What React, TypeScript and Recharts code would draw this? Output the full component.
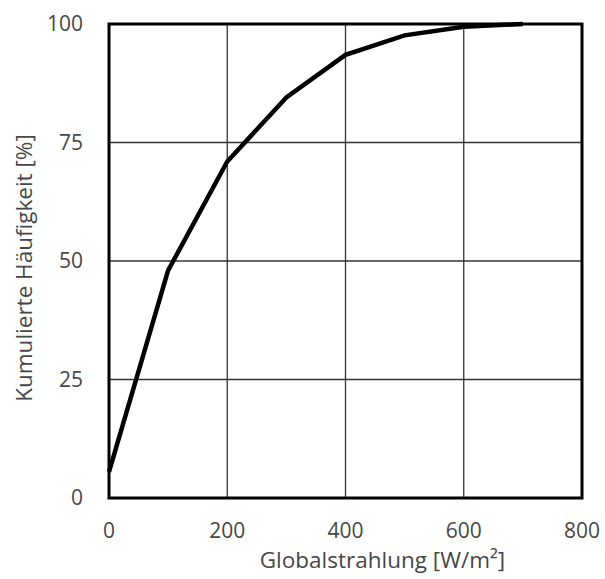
import React from 'react';
import { LineChart, Line, XAxis, YAxis, CartesianGrid, ReferenceArea } from 'recharts';

// Globalstrahlung in W/m² und kumulierte Häufigkeit in %
const irradiance = [0, 100, 200, 300, 400, 500, 600, 700];
const cumulative = [5.5, 48, 71, 84.5, 93.5, 97.6, 99.4, 100];

const xTicks = [0, 200, 400, 600, 800];
const yTicks = [0, 25, 50, 75, 100];

const chartData = irradiance.map((x, i) => ({ x, y: cumulative[i] }));

const font = '"Open Sans", "Noto Sans", sans-serif';
const textColor = '#474747';
const tickStyle = { fontSize: 21, fill: textColor, fontFamily: font };
const labelSize = 22.5;

export default function App() {
  return (
    <div style={{ position: 'absolute', left: 0, top: 0 }}>
      <LineChart width={605} height={579} data={chartData} margin={{ top: 24, right: 23, left: 0, bottom: 0 }}>
        <CartesianGrid stroke="#333" strokeWidth={1.3} horizontalValues={yTicks} verticalValues={xTicks} />
        <XAxis
          type="number"
          dataKey="x"
          domain={[0, 800]}
          ticks={xTicks}
          height={81}
          tick={tickStyle}
          tickLine={false}
          axisLine={false}
          tickMargin={19}
          label={{
            content: ({ viewBox }: any) => (
              <text
                x={viewBox.x + viewBox.width / 2 + 37}
                y={viewBox.y + 70}
                textAnchor="middle"
                fontSize={labelSize}
                fill={textColor}
                fontFamily={font}
              >
                Globalstrahlung [W/m²]
              </text>
            ),
          }}
        />
        <YAxis
          type="number"
          domain={[0, 100]}
          ticks={yTicks}
          width={109}
          tick={tickStyle}
          tickLine={false}
          axisLine={false}
          tickMargin={20}
          label={{
            content: ({ viewBox }: any) => {
              const cx = 32;
              const cy = viewBox.y + viewBox.height / 2 + 7;
              return (
                <text
                  x={cx}
                  y={cy}
                  transform={`rotate(-90, ${cx}, ${cy})`}
                  textAnchor="middle"
                  fontSize={labelSize}
                  fill={textColor}
                  fontFamily={font}
                >
                  Kumulierte Häufigkeit [%]
                </text>
              );
            },
          }}
        />
        <ReferenceArea x1={0} x2={800} y1={0} y2={100} fill="none" stroke="#000" strokeWidth={3} />
        <Line
          type="linear"
          dataKey="y"
          stroke="#000"
          strokeWidth={4.5}
          dot={false}
          isAnimationActive={false}
        />
      </LineChart>
    </div>
  );
}
